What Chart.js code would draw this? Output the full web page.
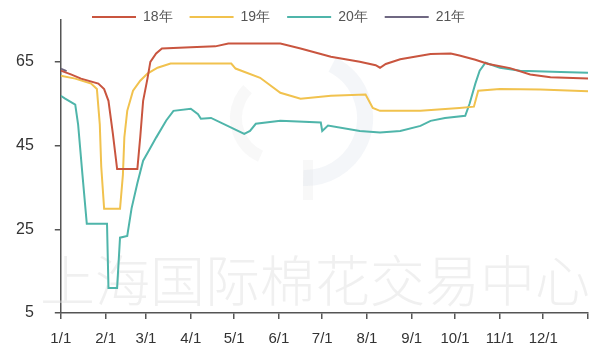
<!DOCTYPE html>
<html>
<head>
<meta charset="utf-8">
<script src="https://cdn.jsdelivr.net/npm/chart.js@4/dist/chart.umd.min.js"></script>
<style>
  html, body { margin: 0; padding: 0; background: #ffffff; }
  #wrap { width: 597px; height: 349px; }
</style>
</head>
<body>
<div id="wrap"><canvas id="c" width="597" height="349"></canvas></div>
<script>
// Month starts as day-of-year offsets, and their axis labels
const monthDays = [0, 31, 59, 90, 120, 151, 181, 212, 243, 273, 304, 334, 365];
const monthLabels = ['1/1', '2/1', '3/1', '4/1', '5/1', '6/1', '7/1', '8/1', '9/1', '10/1', '11/1', '12/1', ''];
const yTicks = [5, 25, 45, 65];

const seriesNames = ['18年', '19年', '20年', '21年'];

// 2018
const days18 = [0, 7, 14, 26, 30, 33, 36, 39, 53, 55, 57, 60, 62, 66, 70, 90, 107, 116, 152, 166, 187, 207, 218, 221, 225, 235, 256, 270, 276, 287, 296, 311, 325, 339, 365];
const vals18 = [62.9, 62.0, 61.0, 59.8, 58.5, 55.7, 48.0, 39.4, 39.4, 47.0, 55.7, 61.0, 65.0, 67.0, 68.2, 68.5, 68.7, 69.4, 69.4, 68.2, 66.2, 65.0, 64.2, 63.6, 64.5, 65.6, 66.9, 67.0, 66.5, 65.5, 64.5, 63.5, 62.0, 61.3, 61.0];

// 2019
const days19 = [0, 10, 21, 25, 27, 28, 30, 41, 43, 44, 46, 50, 55, 60, 67, 76, 118, 121, 138, 152, 166, 187, 211, 216, 221, 249, 276, 286, 289, 304, 332, 365];
const vals19 = [61.7, 61.0, 59.8, 58.5, 50.0, 40.0, 29.9, 29.9, 38.0, 47.0, 53.3, 58.1, 60.5, 62.2, 63.6, 64.6, 64.6, 63.4, 61.2, 57.6, 56.2, 56.9, 57.2, 54.0, 53.3, 53.3, 54.0, 54.3, 58.1, 58.5, 58.4, 58.0];

// 2020
const days20 = [0, 3, 10, 12, 15, 18, 32, 33, 39, 41, 46, 49, 53, 57, 61, 66, 73, 78, 90, 95, 97, 104, 118, 127, 131, 135, 152, 180, 181, 185, 207, 221, 235, 249, 256, 266, 280, 283, 287, 290, 294, 304, 318, 346, 365];
const vals20 = [56.9, 56.2, 54.8, 50.0, 38.0, 26.3, 26.3, 11.0, 11.0, 23.0, 23.4, 30.0, 36.0, 41.4, 43.8, 46.9, 51.0, 53.3, 53.8, 52.5, 51.4, 51.6, 49.3, 47.8, 48.5, 50.2, 50.9, 50.5, 48.5, 49.8, 48.5, 48.1, 48.5, 49.7, 50.9, 51.6, 52.1, 55.0, 59.8, 62.9, 64.8, 63.6, 62.9, 62.6, 62.4];

// 2021 (first days of January only)
const days21 = [0, 2, 4];
const vals21 = [63.4, 63.1, 62.8];

const colors = ['#c9553f', '#f1c24e', '#4fb5aa', '#6f6882'];

function toPoints(days, vals) {
  return days.map((d, i) => ({ x: d, y: vals[i] }));
}

const seriesDays = [days18, days19, days20, days21];
const seriesVals = [vals18, vals19, vals20, vals21];

const datasets = seriesNames.map((name, i) => ({
  label: name,
  data: toPoints(seriesDays[i], seriesVals[i]),
  borderColor: colors[i],
  backgroundColor: colors[i],
  borderWidth: 2,
  pointRadius: 0,
  tension: 0,
  fill: false
}));

// Faint organisation mark behind the lines
const watermark = {
  id: 'watermark',
  beforeDatasetsDraw(chart) {
    const ctx = chart.ctx;
    ctx.save();
    // emblem
    ctx.strokeStyle = 'rgba(205, 212, 228, 0.22)';
    ctx.lineWidth = 16;
    ctx.beginPath();
    ctx.arc(305, 118, 60, -1.1, 1.6);
    ctx.stroke();
    ctx.strokeStyle = 'rgba(215, 215, 215, 0.18)';
    ctx.lineWidth = 12;
    ctx.beginPath();
    ctx.arc(278, 118, 42, 2.0, 3.9);
    ctx.stroke();
    ctx.lineWidth = 10;
    ctx.beginPath();
    ctx.moveTo(308, 160);
    ctx.lineTo(308, 200);
    ctx.stroke();
    // name
    ctx.fillStyle = 'rgba(222, 222, 222, 0.45)';
    ctx.font = '300 55px "Noto Sans CJK SC"';
    ctx.textBaseline = 'middle';
    ctx.textAlign = 'center';
    ctx.fillText('上海国际棉花交易中心', 315, 280);
    ctx.restore();
  }
};

// Place the legend row near the top edge, starting left of centre
const legendPlacement = {
  id: 'legendPlacement',
  afterLayout(chart) {
    const lg = chart.legend;
    const pad = lg.options.labels.padding;
    lg.left = 92 - pad;
    lg.right = chart.width;
    lg.top = 10 - pad;
    lg.bottom = 34;
  }
};

// Keep the axes from reserving extra room beyond their end labels
function trimScalePadding(scale) {
  scale.paddingTop = 0;
  scale.paddingBottom = 0;
  scale.paddingLeft = 0;
  scale.paddingRight = 0;
}

new Chart(document.getElementById('c'), {
  type: 'line',
  data: { datasets },
  plugins: [watermark, legendPlacement],
  options: {
    responsive: false,
    animation: false,
    layout: { padding: { left: -5, right: 9, top: 0, bottom: -10 } },
    plugins: {
      tooltip: { enabled: false },
      legend: {
        position: 'top',
        align: 'start',
        maxHeight: 20,
        labels: {
          boxWidth: 44,
          boxHeight: 0,
          padding: 17,
          color: '#555555',
          font: { family: '"Liberation Sans", Arial, sans-serif', size: 14 }
        }
      }
    },
    scales: {
      x: {
        type: 'linear',
        min: 0,
        max: 365,
        afterBuildTicks(scale) {
          scale.ticks = monthDays.map(v => ({ value: v }));
        },
        afterFit: trimScalePadding,
        ticks: {
          autoSkip: false,
          maxRotation: 0,
          padding: 11,
          color: '#333333',
          font: { family: '"Liberation Sans", Arial, sans-serif', size: 15 },
          callback(value) {
            const i = monthDays.indexOf(value);
            return i >= 0 ? monthLabels[i] : '';
          }
        },
        grid: { drawOnChartArea: false, drawTicks: true, tickLength: 6, color: '#555555', lineWidth: 1.5 },
        border: { display: true, color: '#555555', width: 1.5 }
      },
      y: {
        min: 5,
        max: 75,
        afterBuildTicks(scale) {
          scale.ticks = yTicks.map(v => ({ value: v }));
        },
        afterFit: trimScalePadding,
        ticks: {
          padding: 21,
          color: '#333333',
          font: { family: '"Liberation Sans", Arial, sans-serif', size: 16 }
        },
        grid: { drawOnChartArea: false, drawTicks: true, tickLength: 6, color: '#555555', lineWidth: 1.5 },
        border: { display: true, color: '#555555', width: 1.5 }
      }
    }
  }
});
</script>
</body>
</html>
